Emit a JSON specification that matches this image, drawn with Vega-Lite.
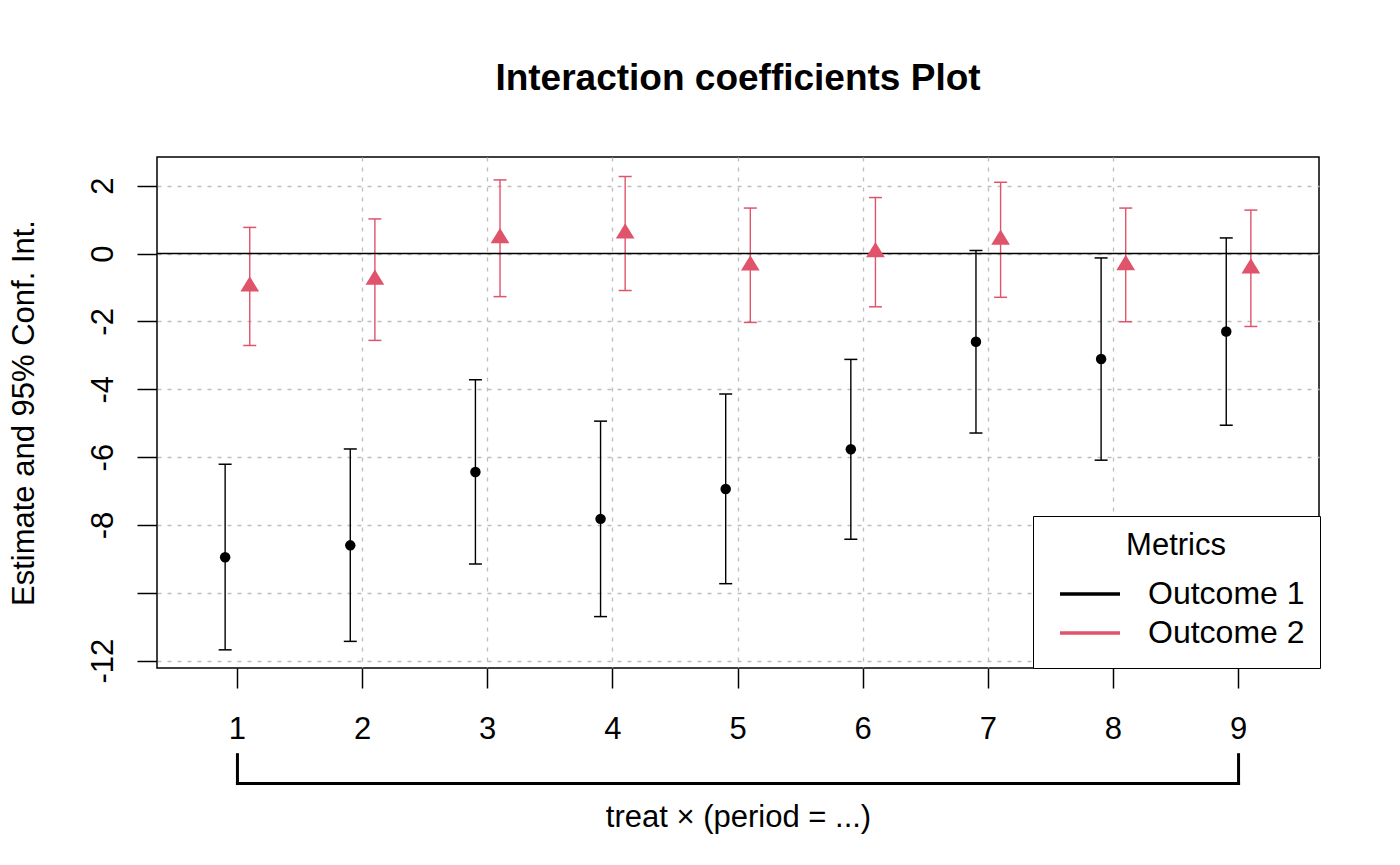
{
  "$schema": "https://vega.github.io/schema/vega-lite/v6.json",
  "width": 1162,
  "height": 511,
  "autosize": {"type": "none"},
  "padding": {"left": 157, "top": 157, "right": 81, "bottom": 197},
  "background": "white",
  "config": {
    "font": "Liberation Sans",
    "view": {"stroke": "black", "strokeWidth": 1.5}
  },
  "title": {
    "text": "Interaction coefficients Plot",
    "font": "Liberation Sans",
    "fontSize": 37,
    "fontWeight": "bold",
    "color": "black",
    "anchor": "middle",
    "frame": "group",
    "baseline": "alphabetic",
    "offset": 30
  },
  "data": {
    "values": [
      {"period": 1, "outcome": "Outcome 1", "est": -8.95, "lo": -11.68, "hi": -6.21},
      {"period": 2, "outcome": "Outcome 1", "est": -8.60, "lo": -11.43, "hi": -5.76},
      {"period": 3, "outcome": "Outcome 1", "est": -6.44, "lo": -9.15, "hi": -3.72},
      {"period": 4, "outcome": "Outcome 1", "est": -7.82, "lo": -10.70, "hi": -4.94},
      {"period": 5, "outcome": "Outcome 1", "est": -6.94, "lo": -9.73, "hi": -4.14},
      {"period": 6, "outcome": "Outcome 1", "est": -5.77, "lo": -8.42, "hi": -3.12},
      {"period": 7, "outcome": "Outcome 1", "est": -2.60, "lo": -5.29, "hi": 0.09},
      {"period": 8, "outcome": "Outcome 1", "est": -3.11, "lo": -6.09, "hi": -0.13},
      {"period": 9, "outcome": "Outcome 1", "est": -2.30, "lo": -5.06, "hi": 0.46},
      {"period": 1, "outcome": "Outcome 2", "est": -0.97, "lo": -2.71, "hi": 0.77},
      {"period": 2, "outcome": "Outcome 2", "est": -0.77, "lo": -2.56, "hi": 1.02},
      {"period": 3, "outcome": "Outcome 2", "est": 0.45, "lo": -1.27, "hi": 2.17},
      {"period": 4, "outcome": "Outcome 2", "est": 0.59, "lo": -1.09, "hi": 2.27},
      {"period": 5, "outcome": "Outcome 2", "est": -0.35, "lo": -2.03, "hi": 1.34},
      {"period": 6, "outcome": "Outcome 2", "est": 0.04, "lo": -1.57, "hi": 1.65},
      {"period": 7, "outcome": "Outcome 2", "est": 0.41, "lo": -1.29, "hi": 2.10},
      {"period": 8, "outcome": "Outcome 2", "est": -0.34, "lo": -2.01, "hi": 1.34},
      {"period": 9, "outcome": "Outcome 2", "est": -0.44, "lo": -2.15, "hi": 1.28}
    ]
  },
  "layer": [
    {
      "mark": {"type": "rule", "strokeWidth": 1.4},
      "encoding": {
        "x": {
          "field": "period",
          "type": "ordinal",
          "scale": {"paddingInner": 0.2133, "paddingOuter": 0.2495},
          "axis": {
            "title": "treat × (period = ...)",
            "titleFont": "Liberation Sans",
            "titleFontSize": 31,
            "titleFontWeight": "normal",
            "titleColor": "black",
            "titleX": 581,
            "titleY": 158,
            "titleAlign": "center",
            "titleBaseline": "alphabetic",
            "labelAngle": 0,
            "labelFont": "Liberation Sans",
            "labelFontSize": 31,
            "labelColor": "black",
            "labelBaseline": "alphabetic",
            "labelAlign": "center",
            "labelPadding": 50,
            "tickSize": 20,
            "tickColor": "black",
            "tickWidth": 1.5,
            "bandPosition": 0.5,
            "domain": false,
            "grid": true,
            "gridDash": [4, 6],
            "gridColor": "#BEBEBE",
            "gridWidth": 1.3,
            "gridOpacity": {"condition": {"test": "datum.value == 1 || datum.value == 9", "value": 0}, "value": 1}
          }
        },
        "xOffset": {
          "field": "outcome",
          "type": "nominal",
          "scale": {"domain": ["Outcome 1", "Outcome 2"], "paddingInner": 0, "paddingOuter": 1}
        },
        "y": {
          "field": "lo",
          "type": "quantitative",
          "scale": {"domain": [-12.215, 2.845], "nice": false, "zero": false},
          "axis": {
            "title": "Estimate and 95% Conf. Int.",
            "titleFont": "Liberation Sans",
            "titleFontSize": 31,
            "titleFontWeight": "normal",
            "titleColor": "black",
            "titleAngle": 270,
            "titleX": -124,
            "titleY": 255.5,
            "titleAlign": "center",
            "titleBaseline": "alphabetic",
            "values": [-12, -10, -8, -6, -4, -2, 0, 2],
            "labelExpr": "datum.value == -10 ? '' : '' + datum.value",
            "labelAngle": 270,
            "labelAlign": "center",
            "labelBaseline": "alphabetic",
            "labelPadding": 25,
            "labelFont": "Liberation Sans",
            "labelFontSize": 31,
            "labelColor": "black",
            "labelOverlap": false,
            "labelFlush": false,
            "tickSize": 20,
            "tickColor": "black",
            "tickWidth": 1.5,
            "domain": false,
            "grid": true,
            "gridDash": [4, 6],
            "gridColor": "#BEBEBE",
            "gridWidth": 1.3
          }
        },
        "y2": {"field": "hi"},
        "color": {
          "field": "outcome",
          "type": "nominal",
          "scale": {"domain": ["Outcome 1", "Outcome 2"], "range": ["#000000", "#DF536B"]},
          "legend": {
            "title": "Metrics",
            "orient": "none",
            "legendX": 876,
            "legendY": 359,
            "fillColor": "white",
            "strokeColor": "black",
            "padding": 15,
            "cornerRadius": 0,
            "symbolType": "stroke",
            "symbolSize": 3600,
            "symbolStrokeWidth": 3.3,
            "symbolOpacity": 1,
            "symbolOffset": 10,
            "labelOffset": 26,
            "labelFont": "Liberation Sans",
            "labelFontSize": 32,
            "labelColor": "black",
            "labelLimit": 400,
            "titleFont": "Liberation Sans",
            "titleFontSize": 31,
            "titleFontWeight": "normal",
            "titleColor": "black",
            "titleAnchor": "middle",
            "titlePadding": 12.5,
            "clipHeight": 39,
            "rowPadding": 0
          }
        }
      }
    },
    {
      "mark": {"type": "tick", "size": 13, "thickness": 1.5, "opacity": 1},
      "encoding": {
        "x": {"field": "period", "type": "ordinal"},
        "xOffset": {"field": "outcome", "type": "nominal"},
        "y": {"field": "lo", "type": "quantitative"},
        "color": {"field": "outcome", "type": "nominal"}
      }
    },
    {
      "mark": {"type": "tick", "size": 13, "thickness": 1.5, "opacity": 1},
      "encoding": {
        "x": {"field": "period", "type": "ordinal"},
        "xOffset": {"field": "outcome", "type": "nominal"},
        "y": {"field": "hi", "type": "quantitative"},
        "color": {"field": "outcome", "type": "nominal"}
      }
    },
    {
      "data": {"values": [{}]},
      "mark": {"type": "rule", "color": "black", "strokeWidth": 1.5},
      "encoding": {"y": {"datum": 0, "type": "quantitative"}}
    },
    {
      "transform": [{"filter": "datum.outcome == 'Outcome 1'"}],
      "mark": {"type": "point", "shape": "circle", "filled": true, "size": 110, "color": "black", "opacity": 1},
      "encoding": {
        "x": {"field": "period", "type": "ordinal"},
        "xOffset": {"field": "outcome", "type": "nominal"},
        "y": {"field": "est", "type": "quantitative"}
      }
    },
    {
      "transform": [{"filter": "datum.outcome == 'Outcome 2'"}],
      "mark": {"type": "point", "shape": "M0,-1.091L1,0.545L-1,0.545Z", "filled": true, "size": 350, "color": "#DF536B", "opacity": 1},
      "encoding": {
        "x": {"field": "period", "type": "ordinal"},
        "xOffset": {"field": "outcome", "type": "nominal"},
        "y": {"field": "est", "type": "quantitative"}
      }
    },
    {
      "data": {"values": [{}]},
      "mark": {"type": "rule", "color": "black", "strokeWidth": 3, "strokeCap": "square", "clip": false},
      "encoding": {
        "x": {"datum": 1, "type": "ordinal", "bandPosition": 0.5},
        "x2": {"datum": 9},
        "y": {"datum": -15.62, "type": "quantitative"}
      }
    },
    {
      "data": {"values": [{}]},
      "mark": {"type": "rule", "color": "black", "strokeWidth": 3, "strokeCap": "square", "clip": false},
      "encoding": {
        "x": {"datum": 1, "type": "ordinal", "bandPosition": 0.5},
        "y": {"datum": -14.77, "type": "quantitative"},
        "y2": {"datum": -15.62}
      }
    },
    {
      "data": {"values": [{}]},
      "mark": {"type": "rule", "color": "black", "strokeWidth": 3, "strokeCap": "square", "clip": false},
      "encoding": {
        "x": {"datum": 9, "type": "ordinal", "bandPosition": 0.5},
        "y": {"datum": -14.77, "type": "quantitative"},
        "y2": {"datum": -15.62}
      }
    }
  ]
}
